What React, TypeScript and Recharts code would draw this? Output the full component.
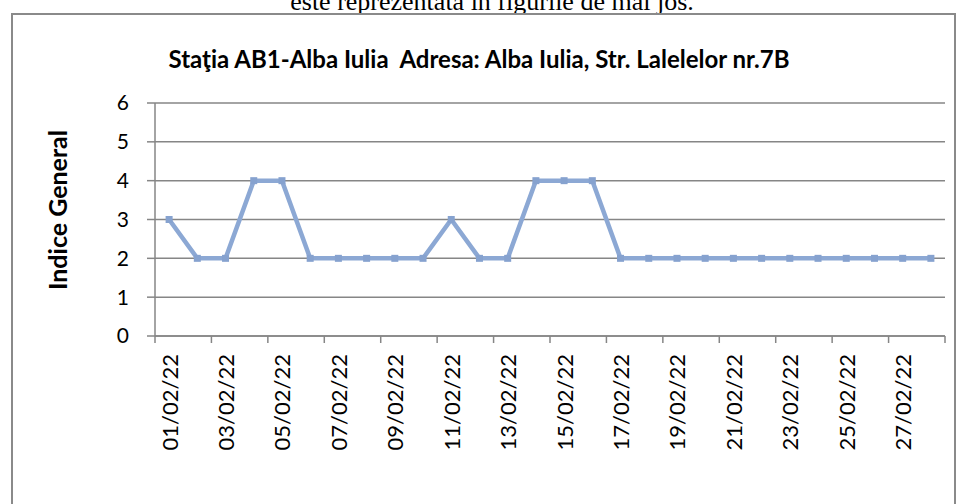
import React from 'react'
import { CartesianGrid, Label, Line, LineChart, XAxis, YAxis } from 'recharts'

const dates = [
  '01/02/22', '02/02/22', '03/02/22', '04/02/22', '05/02/22', '06/02/22', '07/02/22',
  '08/02/22', '09/02/22', '10/02/22', '11/02/22', '12/02/22', '13/02/22', '14/02/22',
  '15/02/22', '16/02/22', '17/02/22', '18/02/22', '19/02/22', '20/02/22', '21/02/22',
  '22/02/22', '23/02/22', '24/02/22', '25/02/22', '26/02/22', '27/02/22', '28/02/22',
]
const indice = [3, 2, 2, 4, 4, 2, 2, 2, 2, 2, 3, 2, 2, 4, 4, 4, 2, 2, 2, 2, 2, 2, 2, 2, 2, 2, 2, 2]
const yTicks = [0, 1, 2, 3, 4, 5, 6]

const data = dates.map((d, i) => ({ day: i + 1, date: d, value: indice[i] }))

// tick marks sit between days (every 2 days), labels sit on odd days
const xTicks: number[] = []
dates.forEach((_, i) => {
  if (i % 2 === 0) {
    xTicks.push(i + 0.5)
    xTicks.push(i + 1)
  }
})
xTicks.push(dates.length + 0.5)

const FONT = 'Lato, "Open Sans", sans-serif'
const GRID = '#868686'
const LINE = '#8ca8d4'

const XTick = ({ x, y, payload }: any) => {
  const v = payload.value
  if (Number.isInteger(v)) {
    return (
      <text
        x={x}
        y={y + 18}
        transform={`rotate(-90, ${x}, ${y + 18})`}
        textAnchor="end"
        dominantBaseline="central"
        fontFamily={FONT}
        fontSize={22}
        fill="#000"
      >
        {dates[v - 1]}
      </text>
    )
  }
  return <line x1={x} y1={y} x2={x} y2={y + 7} stroke={GRID} strokeWidth={1.5} />
}

const SquareDot = ({ cx, cy }: any) => (
  <rect x={cx - 3.5} y={cy - 3.5} width={7} height={7} fill="#86a2cf" />
)

export default function App() {
  return (
    <div style={{ position: 'relative', width: 958, height: 504, overflow: 'hidden', background: '#fff' }}>
      <style>{'body{margin:0}'}</style>
      <div
        style={{
          position: 'absolute',
          left: 13,
          top: -11,
          width: 958,
          textAlign: 'center',
          fontFamily: '"Liberation Serif", serif',
          fontSize: 26,
          lineHeight: 1,
          whiteSpace: 'nowrap',
        }}
      >
        este reprezentată în figurile de mai jos.
      </div>
      <div
        style={{
          position: 'absolute',
          left: 11,
          top: 13,
          width: 941,
          height: 600,
          border: '2px solid #8a8a8a',
        }}
      />
      <div
        style={{
          position: 'absolute',
          left: 0,
          top: 45,
          width: 958,
          textAlign: 'center',
          fontFamily: FONT,
          fontWeight: 700,
          fontSize: 24,
          lineHeight: '28px',
          whiteSpace: 'nowrap',
        }}
      >
        Staţia AB1-Alba Iulia&nbsp;&nbsp;Adresa: Alba Iulia, Str. Lalelelor nr.7B
      </div>
      <div style={{ position: 'absolute', left: 0, top: 0 }}>
        <LineChart width={958} height={504} data={data} margin={{ top: 103, right: 13, bottom: 0, left: 0 }}>
          <CartesianGrid vertical={false} stroke={GRID} strokeWidth={1.5} />
          <XAxis
            dataKey="day"
            type="number"
            domain={[0.5, dates.length + 0.5]}
            ticks={xTicks}
            interval={0}
            height={168}
            tickLine={false}
            tickSize={0}
            tickMargin={0}
            axisLine={{ stroke: GRID, strokeWidth: 1.5 }}
            tick={<XTick />}
          />
          <YAxis
            type="number"
            domain={[0, 6]}
            ticks={yTicks}
            width={155}
            tickSize={8}
            tickMargin={18}
            axisLine={{ stroke: GRID, strokeWidth: 1.5 }}
            tickLine={{ stroke: GRID, strokeWidth: 1.5 }}
            tick={{ fill: '#000', fontSize: 21, fontFamily: FONT }}
          >
            <Label
              content={() => (
                <text
                  x={57}
                  y={210}
                  transform="rotate(-90, 57, 210)"
                  textAnchor="middle"
                  dominantBaseline="central"
                  fontFamily={FONT}
                  fontWeight={700}
                  fontSize={25}
                  fill="#000"
                >
                  Indice General
                </text>
              )}
            />
          </YAxis>
          <Line
            type="linear"
            dataKey="value"
            stroke={LINE}
            strokeWidth={4.5}
            dot={<SquareDot />}
            activeDot={false}
            isAnimationActive={false}
          />
        </LineChart>
      </div>
    </div>
  )
}
